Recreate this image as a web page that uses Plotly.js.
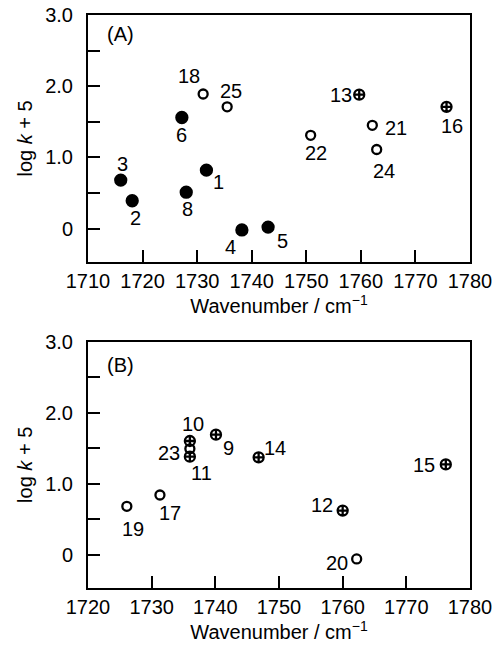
<!DOCTYPE html>
<html>
<head>
<meta charset="utf-8">
<script src="https://cdn.plot.ly/plotly-3.0.1.min.js"></script>
<style>html,body{margin:0;padding:0;background:#fff;}#chart{width:497px;height:647px;}</style>
</head>
<body>
<div id="chart"></div>
<script>
// ---- Panel (A) data ----
var idsA   = ["1","2","3","4","5","6","8","13","16","18","21","22","24","25"];
var wavA   = [1731.7,1718.1,1716.0,1738.2,1743.0,1727.2,1728.0,1759.7,1775.7,1731.1,1762.1,1750.8,1762.9,1735.5];
var logkA  = [0.82,0.39,0.68,-0.02,0.02,1.56,0.51,1.88,1.71,1.89,1.45,1.31,1.11,1.71];
var kindA  = ["filled","filled","filled","filled","filled","filled","filled","crossed","crossed","open","open","open","open","open"];

// ---- Panel (B) data ----
var idsB   = ["9","10","11","12","14","15","17","19","20","23"];
var wavB   = [1740.1,1736.0,1736.0,1760.0,1746.8,1776.2,1731.3,1726.1,1762.2,1736.0];
var logkB  = [1.69,1.60,1.38,0.62,1.37,1.27,0.84,0.68,-0.06,1.49];
var kindB  = ["crossed","crossed","crossed","crossed","crossed","crossed","open","open","open","open"];

// ---- Axis ticks ----
var xTicksA = [1710,1720,1730,1740,1750,1760,1770,1780];
var xTicksB = [1720,1730,1740,1750,1760,1770,1780];
var yTickVals = [0,0.5,1,1.5,2,2.5,3];
var yTickText = ["0","","1.0","","2.0","","3.0"];

// label offsets in pixels [dx right, dy down]
var labelOffset = {
  "1":[12,12],"2":[3,17],"3":[2,-16],"4":[-11,17],"5":[14,14],"6":[0,18],"8":[1,17],
  "13":[-18,0],"16":[5,19],"18":[-14,-18],"21":[24,3],"22":[5,18],"24":[7,21],"25":[4,-16],
  "9":[13,13],"10":[3,-17],"11":[12,16],"12":[-21,-6],"14":[16,-9],"15":[-22,1],
  "17":[10,18],"19":[6,23],"20":[-20,4],"23":[-21,4]
};

var FONT = "Liberation Sans, Arial, Helvetica, sans-serif";
var FS = 20;
var symbolOf = {filled:"circle", open:"circle-open", crossed:"circle-cross-open"};
var sizeOf = {filled:11, open:9, crossed:10};

var traces = [];
var annotations = [];
function addPanel(ids, wav, logk, kind, xa, ya) {
  ["filled","open","crossed"].forEach(function(k){
    var xs=[], ys=[];
    for (var i=0;i<ids.length;i++) if (kind[i]===k){xs.push(wav[i]); ys.push(logk[i]);}
    if (!xs.length) return;
    traces.push({
      x: xs, y: ys, xaxis: xa, yaxis: ya, type: "scatter", mode: "markers",
      cliponaxis: false, hoverinfo: "skip",
      marker: {symbol: symbolOf[k], size: sizeOf[k], color: "#000",
               line: {color: "#000", width: 2.3}}
    });
  });
  for (var i=0;i<ids.length;i++){
    var o = labelOffset[ids[i]] || [0,0];
    annotations.push({
      x: wav[i], y: logk[i], xref: xa, yref: ya, text: ids[i], showarrow: false,
      xshift: o[0], yshift: -o[1], font: {family: FONT, size: FS, color: "#000"}
    });
  }
}
addPanel(idsA, wavA, logkA, kindA, "x", "y");
addPanel(idsB, wavB, logkB, kindB, "x2", "y2");

annotations.push({xref:"x domain", yref:"y domain", x:0.086, y:0.925, text:"(A)", showarrow:false,
  xanchor:"center", yanchor:"middle", font:{family:FONT,size:FS,color:"#000"}});
annotations.push({xref:"x2 domain", yref:"y2 domain", x:0.086, y:0.905, text:"(B)", showarrow:false,
  xanchor:"center", yanchor:"middle", font:{family:FONT,size:FS,color:"#000"}});

function xAxis(range, ticks, anchor) {
  return {
    anchor: anchor, domain: [0,1], range: range, tickvals: ticks,
    showline: true, linecolor: "#000", linewidth: 2, mirror: true,
    ticks: "inside", ticklen: 12, tickwidth: 2, tickcolor: "#000",
    showgrid: false, zeroline: false, fixedrange: true,
    tickfont: {family: FONT, size: FS, color: "#000"},
    title: {text: "Wavenumber / cm<sup>−1</sup>", standoff: 8,
            font: {family: FONT, size: FS, color: "#000"}}
  };
}
function yAxis(domain, anchor) {
  return {
    anchor: anchor, domain: domain, range: [-0.47, 3.0],
    tickvals: yTickVals, ticktext: yTickText,
    showline: true, linecolor: "#000", linewidth: 2, mirror: true,
    ticks: "inside", ticklen: 12, tickwidth: 2, tickcolor: "#000",
    ticklabelstandoff: 9,
    showgrid: false, zeroline: false, fixedrange: true,
    tickfont: {family: FONT, size: FS, color: "#000"},
    title: {text: "log <i>k</i> + 5", standoff: 7,
            font: {family: FONT, size: FS, color: "#000"}}
  };
}

var layout = {
  width: 497, height: 647,
  margin: {l: 88, r: 27, t: 15, b: 59},
  paper_bgcolor: "#fff", plot_bgcolor: "#fff",
  showlegend: false,
  xaxis: xAxis([1710,1780], xTicksA, "y"),
  yaxis: yAxis([0.569,1], "x"),
  xaxis2: xAxis([1720,1780], xTicksB, "y2"),
  yaxis2: yAxis([0,0.43], "x2"),
  annotations: annotations,
  font: {family: FONT, size: FS, color: "#000"}
};

Plotly.newPlot("chart", traces, layout, {displayModeBar: false, staticPlot: true});
</script>
</body>
</html>
